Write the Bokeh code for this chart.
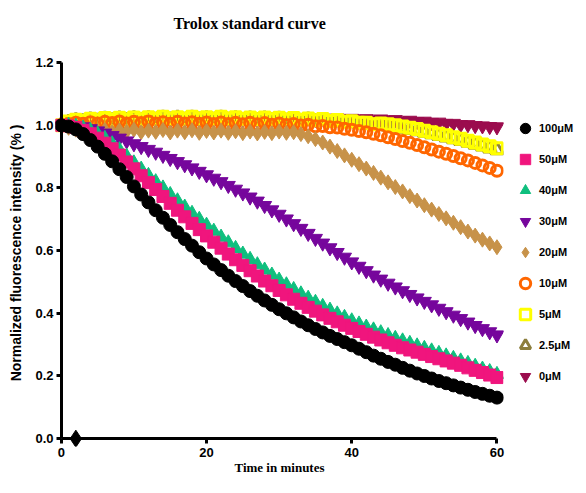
from bokeh.plotting import figure
from bokeh.models import Legend, LegendItem, Range1d, FixedTicker, LinearAxis, Title
from bokeh.embed import file_html
from bokeh.resources import INLINE

minutes = list(range(61))

uM_100 = [1.000, 0.996, 0.987, 0.972, 0.953, 0.932, 0.909, 0.885, 0.860, 0.835,
          0.805, 0.779, 0.754, 0.729, 0.705, 0.682, 0.659, 0.637, 0.616, 0.595,
          0.575, 0.556, 0.538, 0.520, 0.503, 0.487, 0.471, 0.456, 0.441, 0.427,
          0.413, 0.400, 0.387, 0.374, 0.362, 0.350, 0.339, 0.328, 0.318, 0.308,
          0.298, 0.287, 0.276, 0.265, 0.255, 0.245, 0.236, 0.226, 0.217, 0.208,
          0.200, 0.192, 0.184, 0.177, 0.170, 0.163, 0.156, 0.149, 0.143, 0.137,
          0.131]
uM_50 = [1.000, 0.998, 0.993, 0.984, 0.973, 0.959, 0.943, 0.925, 0.905, 0.883,
         0.861, 0.839, 0.817, 0.795, 0.773, 0.751, 0.729, 0.708, 0.687, 0.667,
         0.647, 0.627, 0.608, 0.589, 0.571, 0.553, 0.536, 0.519, 0.503, 0.488,
         0.473, 0.459, 0.445, 0.432, 0.419, 0.407, 0.395, 0.384, 0.373, 0.362,
         0.352, 0.342, 0.333, 0.324, 0.315, 0.306, 0.298, 0.290, 0.283, 0.276,
         0.269, 0.262, 0.255, 0.248, 0.241, 0.234, 0.226, 0.218, 0.211, 0.203,
         0.195]
uM_40 = [1.000, 1.000, 0.997, 0.991, 0.983, 0.972, 0.958, 0.941, 0.922, 0.901,
         0.880, 0.860, 0.840, 0.820, 0.800, 0.779, 0.759, 0.739, 0.719, 0.700,
         0.681, 0.662, 0.643, 0.625, 0.607, 0.589, 0.572, 0.555, 0.538, 0.522,
         0.506, 0.491, 0.476, 0.462, 0.448, 0.435, 0.422, 0.410, 0.398, 0.387,
         0.376, 0.366, 0.356, 0.347, 0.338, 0.329, 0.320, 0.312, 0.304, 0.296,
         0.288, 0.280, 0.272, 0.264, 0.256, 0.248, 0.240, 0.231, 0.222, 0.214,
         0.205]
uM_30 = [1.000, 1.002, 0.999, 0.995, 0.989, 0.982, 0.975, 0.967, 0.959, 0.950,
         0.941, 0.932, 0.923, 0.914, 0.904, 0.894, 0.884, 0.874, 0.864, 0.853,
         0.842, 0.831, 0.820, 0.808, 0.796, 0.784, 0.771, 0.758, 0.744, 0.730,
         0.716, 0.701, 0.686, 0.671, 0.655, 0.639, 0.624, 0.609, 0.594, 0.579,
         0.564, 0.550, 0.536, 0.522, 0.509, 0.496, 0.484, 0.472, 0.460, 0.449,
         0.438, 0.427, 0.416, 0.405, 0.394, 0.383, 0.372, 0.361, 0.351, 0.341,
         0.331]
uM_20 = [1.000, 0.992, 0.986, 0.983, 0.988, 0.981, 0.985, 0.979, 0.984, 0.980,
         0.986, 0.978, 0.983, 0.979, 0.985, 0.977, 0.983, 0.978, 0.984, 0.976,
         0.982, 0.977, 0.983, 0.976, 0.981, 0.975, 0.980, 0.974, 0.979, 0.975,
         0.980, 0.976, 0.978, 0.972, 0.965, 0.956, 0.945, 0.932, 0.918, 0.904,
         0.890, 0.876, 0.862, 0.848, 0.833, 0.818, 0.803, 0.789, 0.774, 0.760,
         0.745, 0.731, 0.717, 0.703, 0.689, 0.675, 0.661, 0.648, 0.635, 0.623,
         0.611]
uM_10 = [1.000, 1.004, 1.008, 1.005, 1.010, 1.006, 1.011, 1.007, 1.012, 1.006,
         1.011, 1.007, 1.012, 1.006, 1.010, 1.005, 1.011, 1.006, 1.010, 1.005,
         1.009, 1.004, 1.009, 1.004, 1.008, 1.003, 1.008, 1.003, 1.007, 1.002,
         1.006, 1.001, 1.004, 0.999, 1.002, 0.997, 0.998, 0.994, 0.993, 0.989,
         0.986, 0.982, 0.978, 0.973, 0.968, 0.962, 0.956, 0.950, 0.944, 0.937,
         0.930, 0.923, 0.916, 0.909, 0.902, 0.895, 0.888, 0.880, 0.872, 0.864,
         0.855]
uM_5 = [1.000, 1.012, 1.018, 1.014, 1.021, 1.016, 1.023, 1.017, 1.024, 1.018,
        1.025, 1.019, 1.026, 1.020, 1.027, 1.021, 1.026, 1.020, 1.027, 1.021,
        1.026, 1.020, 1.027, 1.021, 1.026, 1.020, 1.025, 1.019, 1.025, 1.019,
        1.024, 1.018, 1.023, 1.017, 1.022, 1.016, 1.020, 1.014, 1.017, 1.011,
        1.013, 1.008, 1.008, 1.003, 1.006, 1.003, 1.000, 0.996, 0.992, 0.988,
        0.983, 0.978, 0.973, 0.968, 0.962, 0.957, 0.951, 0.945, 0.939, 0.933,
        0.927]
uM_2_5 = [1.000, 1.010, 1.015, 1.012, 1.018, 1.014, 1.020, 1.015, 1.021, 1.016,
          1.022, 1.016, 1.022, 1.017, 1.023, 1.018, 1.023, 1.017, 1.023, 1.018,
          1.022, 1.017, 1.023, 1.017, 1.022, 1.016, 1.021, 1.015, 1.021, 1.015,
          1.020, 1.014, 1.019, 1.013, 1.018, 1.012, 1.016, 1.010, 1.013, 1.007,
          1.009, 1.004, 1.004, 0.999, 1.001, 0.997, 0.994, 0.990, 0.986, 0.982,
          0.977, 0.972, 0.967, 0.962, 0.956, 0.951, 0.945, 0.939, 0.933, 0.927,
          0.921]
uM_0 = [1.000, 1.008, 1.012, 1.010, 1.015, 1.012, 1.017, 1.013, 1.018, 1.014,
        1.019, 1.015, 1.020, 1.016, 1.021, 1.016, 1.021, 1.017, 1.022, 1.017,
        1.022, 1.018, 1.023, 1.018, 1.023, 1.018, 1.023, 1.019, 1.024, 1.019,
        1.024, 1.019, 1.024, 1.019, 1.024, 1.019, 1.023, 1.019, 1.023, 1.018,
        1.022, 1.018, 1.021, 1.017, 1.020, 1.016, 1.018, 1.014, 1.016, 1.012,
        1.013, 1.009, 1.010, 1.006, 1.006, 1.002, 1.002, 0.999, 0.998, 0.996,
        0.995]

stray_t = [2]
stray_v = [0.0]

labels = ["100μM", "50μM", "40μM", "30μM", "20μM", "10μM", "5μM", "2.5μM", "0μM"]
series = [uM_100, uM_50, uM_40, uM_30, uM_20, uM_10, uM_5, uM_2_5, uM_0]
colors = ["#000000", "#F0157D", "#0FBF7E", "#76069C", "#C79249",
          "#FF6600", "#FFFF00", "#8C7E3C", "#9B0C4E"]
markers = ["circle", "square", "triangle", "inverted_triangle", "diamond",
           "circle", "square", "triangle", "inverted_triangle"]
sizes = [13, 12, 14, 14, 15, 11, 11, 13, 14]
hollow = [False, False, False, False, False, True, True, True, False]

x_ticks = [0, 20, 40, 60]
x_tick_labels = ["0", "20", "40", "60"]
y_ticks = [0.0, 0.2, 0.4, 0.6, 0.8, 1.0, 1.2]
y_tick_labels = ["0.0", "0.2", "0.4", "0.6", "0.8", "1.0", "1.2"]

p = figure(title=None, frame_width=448, frame_height=387,
           x_range=Range1d(-0.8, 60.9), y_range=Range1d(-0.025, 1.21),
           output_backend="svg", toolbar_location=None,
           min_border_left=55, min_border_right=67,
           min_border_top=59, min_border_bottom=31)

p.outline_line_color = None
p.xgrid.grid_line_color = None
p.ygrid.grid_line_color = None
p.background_fill_color = "white"
p.border_fill_color = "white"

renderers = {}
for i in reversed(range(len(series))):
    if hollow[i]:
        r = p.scatter(minutes, series[i], marker=markers[i], size=sizes[i],
                      fill_color="white", fill_alpha=0.0, line_color=colors[i],
                      line_width=3)
    else:
        r = p.scatter(minutes, series[i], marker=markers[i], size=sizes[i],
                      fill_color=colors[i], line_color=colors[i], line_width=1)
    renderers[i] = r

p.scatter(stray_t, stray_v, marker="diamond", size=17, fill_color="black",
          line_color="black")

# axis lines + ticks drawn at the data origin
for ax, ticks, bnds in ((p.xaxis, x_ticks, (0, 60)), (p.yaxis, y_ticks, (0, 1.2))):
    ax.fixed_location = 0
    ax.bounds = bnds
    ax.ticker = FixedTicker(ticks=ticks)
    ax.axis_line_width = 3
    ax.axis_line_color = "black"
    ax.major_tick_line_width = 3
    ax.major_tick_line_color = "black"
    ax.major_tick_out = 5
    ax.major_tick_in = 0
    ax.minor_tick_line_color = None
    ax.major_label_text_color = None
    ax.major_label_standoff = 0

# label-only axes in the side panels
def label_axis(ticks, tick_labels, title, title_font, title_size,
               label_standoff, title_standoff):
    return LinearAxis(ticker=FixedTicker(ticks=ticks),
                      major_label_overrides=dict(zip(ticks, tick_labels)),
                      axis_line_color=None, major_tick_line_color=None,
                      minor_tick_line_color=None, major_tick_out=0, major_tick_in=0,
                      major_label_standoff=label_standoff,
                      major_label_text_font="Liberation Sans",
                      major_label_text_font_style="bold",
                      major_label_text_font_size="13px",
                      major_label_text_color="black",
                      axis_label=title, axis_label_text_font=title_font,
                      axis_label_text_font_style="bold",
                      axis_label_text_font_size=title_size,
                      axis_label_text_color="black",
                      axis_label_standoff=title_standoff)

p.add_layout(label_axis(y_ticks, y_tick_labels, "Normalized fluorescence intensity (% )",
                        "Liberation Sans", "14px", 2, 8), "left")
p.add_layout(label_axis(x_ticks, x_tick_labels, "Time in minutes",
                        "Liberation Serif", "13px", 1, 0), "below")

# spacer (closest to the frame), then the title above it
p.add_layout(Title(text=" ", text_font_size="10px", standoff=13), "above")
p.add_layout(Title(text="Trolox standard curve", text_font="Liberation Serif",
                   text_font_style="bold", text_font_size="16px", text_color="black",
                   align="left", offset=118, standoff=4), "above")

items = [LegendItem(label=labels[i], renderers=[renderers[i]]) for i in range(len(series))]
legend = Legend(items=items, location=(9, 57),
                label_text_font="Liberation Sans", label_text_font_style="bold",
                label_text_font_size="11px", label_text_color="black",
                glyph_width=26, glyph_height=26, label_height=26,
                spacing=5, padding=0, margin=0, label_standoff=1,
                border_line_color=None, background_fill_alpha=0)
p.add_layout(legend, "right")

open("out.html", "w").write(file_html(p, INLINE))
